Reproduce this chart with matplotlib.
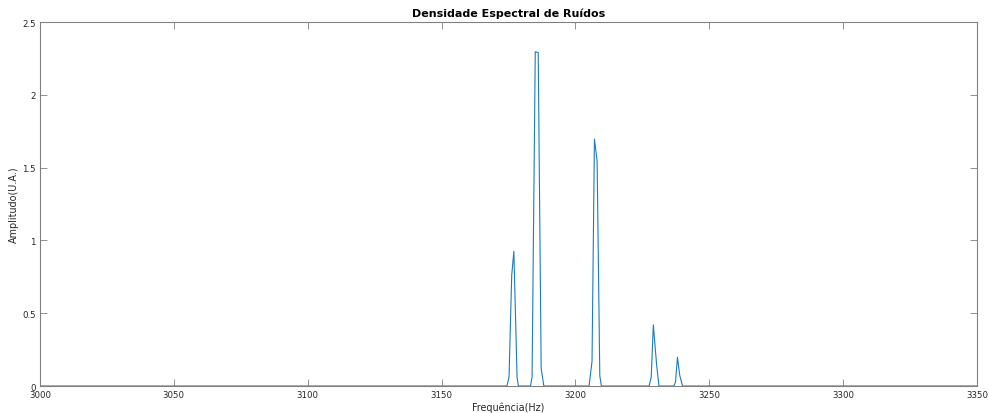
import matplotlib
matplotlib.use("Agg")
import matplotlib.pyplot as plt

# spectrum samples (Hz, U.A.) -- flat zero outside the listed peaks
freq = [3000, 3174.4, 3175.2, 3176.2, 3177.0, 3178.2, 3178.7,
        3183.2, 3183.8, 3185.0, 3186.1, 3187.2, 3188.2,
        3205.1, 3206.2, 3207.1, 3208.1, 3209.1, 3209.7,
        3227.5, 3228.3, 3229.1, 3230.3, 3231.2,
        3236.8, 3237.4, 3238.1, 3239.0, 3240.0, 3350]
amp = [0, 0, 0.06, 0.76, 0.925, 0.06, 0,
       0, 0.06, 2.296, 2.29, 0.12, 0,
       0, 0.17, 1.696, 1.547, 0.07, 0,
       0, 0.06, 0.42, 0.15, 0,
       0, 0.03, 0.197, 0.07, 0, 0]

xticks = [3000, 3050, 3100, 3150, 3200, 3250, 3300, 3350]
yticks = [0, 0.5, 1, 1.5, 2, 2.5]

fig = plt.figure(figsize=(9.89, 4.14), dpi=100)
ax = fig.add_axes([0.0404, 0.0652, 0.9475, 0.8792])

ax.plot(freq, amp, color='#1a7cc2', linewidth=0.8)

ax.set_xlim(3000, 3350)
ax.set_ylim(0, 2.5)
ax.set_xticks(xticks)
ax.set_yticks(yticks)
ax.set_yticklabels(['0', '0.5', '1', '1.5', '2', '2.5'])

grey = '#262626'
for s in ax.spines.values():
    s.set_color('#808080')
    s.set_linewidth(0.8)
ax.tick_params(direction='in', length=5, width=0.6, colors='#808080',
               labelcolor=grey, labelsize=6.2, top=True, right=True, pad=3)

ax.set_title('Densidade Espectral de Ruídos', fontsize=8, fontweight='bold',
             color='black', pad=4)
ax.set_xlabel('Frequência(Hz)', fontsize=6.9, color=grey, labelpad=2)
ax.set_ylabel('Amplitudo(U.A.)', fontsize=6.9, color=grey, labelpad=2)

fig.savefig('out.png', dpi=100)
